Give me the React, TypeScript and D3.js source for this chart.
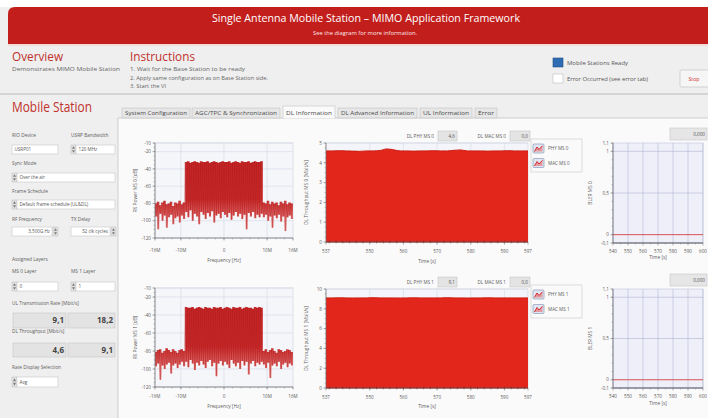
import React from 'react';
import * as d3 from 'd3';

const FONT = "'Open Sans', 'Noto Sans', 'DejaVu Sans', sans-serif";

// ---------- data ----------
const specFreqMHz = [-16,-15.5,-15,-14.5,-14,-13.5,-13,-12.5,-12,-11.5,-11,-10.5,-10,-9.5,-9,-8.5,-8,-7.5,-7,-6.5,-6,-5.5,-5,-4.5,-4,-3.5,-3,-2.5,-2,-1.5,-1,-0.5,0,0.5,1,1.5,2,2.5,3,3.5,4,4.5,5,5.5,6,6.5,7,7.5,8,8.5,9,9.5,10,10.5,11,11.5,12,12.5,13,13.5,14,14.5,15,15.5];
const specUpperMS0 = [-80,-78,-82,-79,-77,-81,-80,-78,-83,-79,-80,-77,-81,-79,
  -32,-31,-33,-32,-31,-32,-33,-31,-32,-32,-31,-33,-32,-31,-32,-33,-32,-31,-32,-32,-31,-33,-32,-31,-32,-33,-31,-32,-32,-31,-33,-32,-31,-32,-32,-31,
  -79,-80,-77,-81,-78,-80,-79,-82,-78,-80,-77,-81,-79,-80];
const specLowerMS0 = [-95,-110,-92,-100,-94,-108,-96,-93,-104,-97,-95,-102,-94,-98,
  -90,-96,-88,-100,-92,-95,-104,-90,-93,-98,-91,-95,-89,-102,-94,-92,-97,-90,-93,-96,-91,-99,-94,-90,-95,-92,-98,-93,-110,-91,-95,-90,-97,-93,-96,-92,
  -96,-93,-100,-95,-108,-94,-97,-93,-101,-95,-112,-96,-94,-98];
const specUpperMS1 = [-81,-79,-78,-82,-80,-77,-79,-81,-78,-80,-82,-79,-78,-80,
  -31,-32,-32,-31,-33,-32,-31,-32,-33,-31,-32,-32,-33,-31,-32,-32,-31,-33,-32,-31,-32,-33,-31,-32,-32,-31,-33,-32,-31,-32,-32,-33,-31,-32,-31,-32,
  -80,-78,-81,-79,-77,-80,-82,-78,-79,-81,-80,-78,-79,-81];
const specLowerMS1 = [-97,-94,-112,-96,-100,-95,-93,-105,-96,-94,-99,-95,-92,-97,
  -92,-98,-90,-94,-101,-93,-96,-91,-95,-99,-92,-90,-97,-93,-108,-94,-91,-96,-92,-95,-99,-90,-94,-97,-93,-100,-91,-96,-92,-106,-94,-91,-97,-93,-95,-92,
  -95,-99,-93,-110,-96,-94,-97,-92,-100,-95,-93,-98,-94,-96];
const specTickValues = [-16, -10, 0, 10, 16];
const specTickLabels = ['-16M', '-10M', '0', '10M', '16M'];
const powerTickValues = [-10, -20, -40, -60, -80, -100, -120];

const tputTime = [537,539,541,543,545,547,549,551,553,555,557,559,561,563,565,567,569,571,573,575,577,579,581,583,585,587,589,591,593,595,597];
const tputPhyMS0 = [4.6,4.6,4.61,4.6,4.59,4.58,4.6,4.6,4.62,4.7,4.66,4.6,4.6,4.59,4.6,4.6,4.61,4.6,4.6,4.63,4.65,4.6,4.6,4.6,4.59,4.6,4.6,4.61,4.6,4.6,4.6];
const tputMacMS0 = [0,0,0,0,0,0,0,0,0,0,0,0,0,0,0,0,0,0,0,0,0,0,0,0,0,0,0,0,0,0,0];
const tputPhyMS1 = [9.1,9.1,9.11,9.1,9.09,9.1,9.1,9.12,9.1,9.1,9.1,9.09,9.1,9.11,9.1,9.1,9.1,9.1,9.12,9.1,9.1,9.09,9.1,9.1,9.11,9.1,9.1,9.1,9.1,9.1,9.1];
const tputMacMS1 = [0,0,0,0,0,0,0,0,0,0,0,0,0,0,0,0,0,0,0,0,0,0,0,0,0,0,0,0,0,0,0];
const tputTickValues = [537, 550, 560, 570, 580, 590, 597];
const tputYTicksMS0 = [0, 1, 2, 3, 4, 5];
const tputYTicksMS1 = [0, 2, 4, 6, 8, 10];

const blerTime = [540, 550, 560, 570, 580, 590, 600];
const blerMS0 = [0, 0, 0, 0, 0, 0, 0];
const blerMS1 = [0, 0, 0, 0, 0, 0, 0];
const blerTickValues = [-0.1, 0, 0.5, 1, 1.1];
const blerTickLabels = ['-0,1', '0', '0,5', '1', '1,1'];

const tabLabels = ['System Configuration', 'AGC/TPC & Synchronization', 'DL Information', 'DL Advanced Information', 'UL Information', 'Error'];
const ulRate = [9.1, 18.2];
const dlThroughput = [4.6, 9.1];

const fmt1 = (v: number) => v.toFixed(1).replace('.', ',');

// ---------- small widgets ----------
function Spinner({ x, y, h }: any) {
  const w = 5;
  return (
    <g>
      <rect x={x} y={y} width={w} height={h} fill="#e2e2e2" stroke="#bdbdbd" strokeWidth={0.5} />
      <path d={`M${x + 1},${y + h / 2 - 0.8} L${x + w / 2},${y + 1.3} L${x + w - 1},${y + h / 2 - 0.8} Z`} fill="#7a7a7a" />
      <path d={`M${x + 1},${y + h / 2 + 0.8} L${x + w / 2},${y + h - 1.3} L${x + w - 1},${y + h / 2 + 0.8} Z`} fill="#7a7a7a" />
    </g>
  );
}

function Box({ x, y, w, h, text, align = 'left', fill = '#ffffff', size = 4.6, bold = false, color = '#555' }: any) {
  const tx = align === 'right' ? x + w - 2 : x + 2.5;
  return (
    <g>
      <rect x={x} y={y} width={w} height={h} fill={fill} stroke="#c6c6c6" strokeWidth={0.6} />
      <text x={tx} y={y + h / 2 + size * 0.36} fontSize={size} fill={color} fontWeight={bold ? 700 : 400}
        textAnchor={align === 'right' ? 'end' : 'start'}>{text}</text>
    </g>
  );
}

function Label({ x, y, children, size = 4.8 }: any) {
  return <text x={x} y={y} fontSize={size} fill="#5c5c5c">{children}</text>;
}

// ---------- charts ----------
function SpectrumChart({ y0, y1, ms, upper, lower, tickY, titleY }: any) {
  const x0 = 155, x1 = 293;
  const xs = d3.scaleLinear().domain([-16, 16]).range([x0, x1]);
  const ys = d3.scaleLinear().domain([-120, -10]).range([y1, y0]);
  const pts = specFreqMHz.map((f, i) => ({ f, hi: upper[i], lo: lower[i] }));
  const last = pts[pts.length - 1];
  const areaPath = d3.area<any>().x((d) => xs(d.f)).y0((d) => ys(d.lo)).y1((d) => ys(d.hi))
    .curve(d3.curveStepAfter)([...pts, { f: 16, hi: last.hi, lo: last.lo }]);
  const zig: [number, number][] = [];
  pts.forEach((p) => { zig.push([xs(p.f), ys(p.hi)]); zig.push([xs(p.f + 0.25), ys(p.lo)]); });
  const zigPath = d3.line()(zig);
  const gid = `specGrad${ms}`;
  const cid = `specClip${ms}`;
  const minorY = d3.range(-120, -9, 5);
  const minorX = d3.range(-16, 16.1, 2);
  return (
    <g>
      <defs>
        <linearGradient id={gid} gradientUnits="userSpaceOnUse" x1={0} y1={ys(-30)} x2={0} y2={ys(-112)}>
          <stop offset="0" stopColor="#bf1717" />
          <stop offset="0.55" stopColor="#c41c1c" />
          <stop offset="1" stopColor="#f0a0a0" />
        </linearGradient>
        <clipPath id={cid}><rect x={x0} y={y0} width={x1 - x0} height={y1 - y0} /></clipPath>
      </defs>
      <rect x={x0} y={y0} width={x1 - x0} height={y1 - y0} fill="#f5f6fa" stroke="#c3c8d6" strokeWidth={0.5} />
      {specTickValues.slice(1, -1).map((v) => (
        <line key={'gx' + v} x1={xs(v)} x2={xs(v)} y1={y0} y2={y1} stroke="#d3d8e5" strokeWidth={0.6} />
      ))}
      {powerTickValues.map((v) => (
        <line key={'gy' + v} x1={x0} x2={x1} y1={ys(v)} y2={ys(v)} stroke="#d3d8e5" strokeWidth={0.6} />
      ))}
      <g clipPath={`url(#${cid})`}>
        <path d={areaPath || ''} fill={`url(#${gid})`} opacity={0.92} />
        <path d={zigPath || ''} fill="none" stroke="#b01212" strokeWidth={0.45} opacity={0.75} />
      </g>
      {/* axes */}
      <line x1={x0} x2={x0} y1={y0} y2={y1} stroke="#6e6e6e" strokeWidth={0.7} />
      <line x1={x0} x2={x1} y1={y1} y2={y1} stroke="#6e6e6e" strokeWidth={0.7} />
      {minorY.map((v) => <line key={'my' + v} x1={x0 - 1.5} x2={x0} y1={ys(v)} y2={ys(v)} stroke="#777" strokeWidth={0.4} />)}
      {minorX.map((v) => <line key={'mx' + v} x1={xs(v)} x2={xs(v)} y1={y1} y2={y1 + 1.5} stroke="#777" strokeWidth={0.4} />)}
      {powerTickValues.map((v) => (
        <g key={'ty' + v}>
          <line x1={x0 - 2.5} x2={x0} y1={ys(v)} y2={ys(v)} stroke="#666" strokeWidth={0.5} />
          <text x={x0 - 4} y={ys(v) + 1.7} fontSize={4.6} fill="#5a5a5a" textAnchor="end">{v}</text>
        </g>
      ))}
      {specTickValues.map((v, i) => (
        <g key={'tx' + v}>
          <line x1={xs(v)} x2={xs(v)} y1={y1} y2={y1 + 2.5} stroke="#666" strokeWidth={0.5} />
          <text x={xs(v)} y={tickY} fontSize={4.6} fill="#5a5a5a" textAnchor="middle">{specTickLabels[i]}</text>
        </g>
      ))}
      <text x={(x0 + x1) / 2} y={titleY} fontSize={4.8} fill="#5a5a5a" textAnchor="middle">Frequency [Hz]</text>
      <text transform={`translate(137,${(y0 + y1) / 2}) rotate(-90)`} fontSize={4.8} fill="#5a5a5a" textAnchor="middle">{`RX Power MS ${ms} [dB]`}</text>
    </g>
  );
}

function LegendIcon({ x, y }: any) {
  return (
    <g>
      <rect x={x} y={y} width={11} height={9} rx={1} fill="#dfe6f1" stroke="#7a8db0" strokeWidth={0.6} />
      <path d={`M${x + 1.5},${y + 7.5} L${x + 4},${y + 3} L${x + 6},${y + 5.5} L${x + 9.5},${y + 1.8}`} fill="none" stroke="#d42020" strokeWidth={1} />
      <path d={`M${x + 1.5},${y + 7.5} L${x + 4},${y + 3} L${x + 6},${y + 5.5} L${x + 9.5},${y + 1.8} L${x + 9.5},${y + 7.5} Z`} fill="#e45050" opacity={0.5} />
    </g>
  );
}

function TputChart({ y0, y1, ms, ymax, yticks, phy, mac, tickY, titleY }: any) {
  const x0 = 326, x1 = 528;
  const xs = d3.scaleLinear().domain([537, 597]).range([x0, x1]);
  const ys = d3.scaleLinear().domain([0, ymax]).range([y1, y0]);
  const data = tputTime.map((t, i) => ({ t, p: phy[i], m: mac[i] }));
  const areaPath = d3.area<any>().x((d) => xs(d.t)).y0(ys(0)).y1((d) => ys(d.p)).curve(d3.curveMonotoneX)(data);
  const topLine = d3.line<any>().x((d) => xs(d.t)).y((d) => ys(d.p)).curve(d3.curveMonotoneX)(data);
  const macLine = d3.line<any>().x((d) => xs(d.t)).y((d) => ys(d.m))(data);
  const minorX = d3.range(538, 597, 2);
  const step = yticks[1] - yticks[0];
  const minorY = d3.range(0, ymax + 0.001, step / 4);
  const phyNow = phy[phy.length - 1];
  const macNow = mac[mac.length - 1];
  return (
    <g>
      <rect x={x0} y={y0} width={x1 - x0} height={y1 - y0} fill="#f4f5fa" stroke="#c3c8d6" strokeWidth={0.5} />
      {yticks.map((v: number) => (
        <line key={'gy' + v} x1={x0} x2={x1} y1={ys(v)} y2={ys(v)} stroke="#d3d8e5" strokeWidth={0.6} />
      ))}
      {tputTickValues.slice(1, -1).map((v) => (
        <line key={'gx' + v} x1={xs(v)} x2={xs(v)} y1={y0} y2={y1} stroke="#d3d8e5" strokeWidth={0.6} />
      ))}
      <path d={areaPath || ''} fill="#e3261b" />
      <path d={topLine || ''} fill="none" stroke="#cc1d12" strokeWidth={1} />
      <path d={macLine || ''} fill="none" stroke="#9a1208" strokeWidth={1.2} />
      <line x1={x0} x2={x0} y1={y0} y2={y1} stroke="#6e6e6e" strokeWidth={0.7} />
      <line x1={x0} x2={x1} y1={y1} y2={y1} stroke="#6e6e6e" strokeWidth={0.7} />
      {minorX.map((v) => <line key={'mx' + v} x1={xs(v)} x2={xs(v)} y1={y1 - 1.5} y2={y1 + 1.5} stroke="#7a1a10" strokeWidth={0.4} />)}
      {minorY.map((v) => <line key={'my' + v} x1={x0 - 1.5} x2={x0} y1={ys(v)} y2={ys(v)} stroke="#777" strokeWidth={0.4} />)}
      {yticks.map((v: number) => (
        <g key={'ty' + v}>
          <line x1={x0 - 2.5} x2={x0} y1={ys(v)} y2={ys(v)} stroke="#666" strokeWidth={0.5} />
          <text x={x0 - 4} y={ys(v) + 1.7} fontSize={4.6} fill="#5a5a5a" textAnchor="end">{v}</text>
        </g>
      ))}
      {tputTickValues.map((v) => (
        <g key={'tx' + v}>
          <line x1={xs(v)} x2={xs(v)} y1={y1} y2={y1 + 2.5} stroke="#666" strokeWidth={0.5} />
          <text x={xs(v)} y={tickY} fontSize={4.6} fill="#5a5a5a" textAnchor="middle">{v}</text>
        </g>
      ))}
      <text x={(x0 + x1) / 2} y={titleY} fontSize={4.8} fill="#5a5a5a" textAnchor="middle">Time [s]</text>
      <text transform={`translate(308,${(y0 + y1) / 2}) rotate(-90)`} fontSize={4.8} fill="#5a5a5a" textAnchor="middle">{`DL Throughput MS ${ms} [Mbit/s]`}</text>
      {/* indicators above */}
      <text x={434} y={y0 - 5} fontSize={4.6} fill="#5a5a5a" textAnchor="end">{`DL PHY MS ${ms}`}</text>
      <Box x={438} y={y0 - 12} w={19} h={10} text={fmt1(phyNow)} align="right" fill="#e4e4e4" />
      <text x={506} y={y0 - 5} fontSize={4.6} fill="#5a5a5a" textAnchor="end">{`DL MAC MS ${ms}`}</text>
      <Box x={510} y={y0 - 12} w={20} h={10} text={fmt1(macNow)} align="right" fill="#e4e4e4" />
      {/* legend */}
      <rect x={531} y={y0 - 4} width={51} height={33} fill="#fafafa" stroke="#c9c9c9" strokeWidth={0.6} />
      <LegendIcon x={533} y={y0 + 1} />
      <text x={548} y={y0 + 7.3} fontSize={4.6} fill="#5a5a5a">{`PHY MS ${ms}`}</text>
      <LegendIcon x={533} y={y0 + 15.5} />
      <text x={548} y={y0 + 21.8} fontSize={4.6} fill="#5a5a5a">{`MAC MS ${ms}`}</text>
    </g>
  );
}

function BlerChart({ y0, y1, ms, values, tickY, titleY }: any) {
  const x0 = 613, x1 = 703;
  const xs = d3.scaleLinear().domain([540, 600]).range([x0, x1]);
  const ys = d3.scaleLinear().domain([-0.1, 1.1]).range([y1, y0]);
  const line = d3.line<any>().x((d) => xs(d.t)).y((d) => ys(d.v))(blerTime.map((t, i) => ({ t, v: values[i] })));
  const minorY = d3.range(-0.1, 1.101, 0.1);
  const minorX = d3.range(545, 600, 10);
  return (
    <g>
      <rect x={x0} y={y0} width={x1 - x0} height={y1 - y0} fill="#efeff9" stroke="#b9bdd6" strokeWidth={0.5} />
      {blerTime.map((v) => (
        <line key={'gx' + v} x1={xs(v)} x2={xs(v)} y1={y0} y2={y1} stroke="#b4b8d4" strokeWidth={0.6} />
      ))}
      {[1, 0.5].map((v) => (
        <line key={'gy' + v} x1={x0} x2={x1} y1={ys(v)} y2={ys(v)} stroke="#aeb2d0" strokeWidth={0.6} />
      ))}
      <path d={line || ''} fill="none" stroke="#d42a2a" strokeWidth={0.8} />
      <line x1={x0} x2={x0} y1={y0} y2={y1} stroke="#6e6e6e" strokeWidth={0.7} />
      <line x1={x0} x2={x1} y1={y1} y2={y1} stroke="#4e4e5e" strokeWidth={1.2} />
      {minorY.map((v) => <line key={'my' + v} x1={x0 - 1.5} x2={x0} y1={ys(v)} y2={ys(v)} stroke="#777" strokeWidth={0.4} />)}
      {minorX.map((v) => <line key={'mx' + v} x1={xs(v)} x2={xs(v)} y1={y1} y2={y1 + 1.5} stroke="#777" strokeWidth={0.4} />)}
      {blerTickValues.map((v, i) => (
        <g key={'ty' + v}>
          <line x1={x0 - 2.5} x2={x0} y1={ys(v)} y2={ys(v)} stroke="#666" strokeWidth={0.5} />
          <text x={x0 - 4} y={ys(v) + 1.7} fontSize={4.6} fill="#5a5a5a" textAnchor="end">{blerTickLabels[i]}</text>
        </g>
      ))}
      {blerTime.map((v) => (
        <g key={'tx' + v}>
          <line x1={xs(v)} x2={xs(v)} y1={y1} y2={y1 + 2.5} stroke="#666" strokeWidth={0.5} />
          <text x={xs(v)} y={tickY} fontSize={4.6} fill="#5a5a5a" textAnchor="middle">{v}</text>
        </g>
      ))}
      <text x={(x0 + x1) / 2} y={titleY} fontSize={4.8} fill="#5a5a5a" textAnchor="middle">Time [s]</text>
      <text transform={`translate(592,${(y0 + y1) / 2}) rotate(-90)`} fontSize={4.8} fill="#5a5a5a" textAnchor="middle">{`BLER MS ${ms}`}</text>
      <Box x={670} y={y0 - 15} w={37} h={12} text={values[values.length - 1].toFixed(3).replace('.', ',')} align="right" fill="#e6e6e6" />
    </g>
  );
}

// ---------- main ----------
export default function App() {
  const tabs = [
    { x0: 122, x1: 190 }, { x0: 192, x1: 280 }, { x0: 283, x1: 335 },
    { x0: 338, x1: 417 }, { x0: 420, x1: 472 }, { x0: 475, x1: 497 },
  ];
  return (
    <svg width={708} height={418} viewBox="0 0 708 418" fontFamily={FONT}
      style={{ position: 'absolute', left: 0, top: 0, display: 'block' }}>
      <rect x={0} y={0} width={708} height={418} fill="#efefef" />
      <rect x={0} y={0} width={708} height={7} fill="#ffffff" />
      {/* header */}
      <path d="M8,14 Q8,7 15,7 L708,7 L708,44 L8,44 Z" fill="#c21e1c" />
      <line x1={8} x2={708} y1={45} y2={45} stroke="#f4d4d2" strokeWidth={1.5} />
      <text x={366} y={22} textAnchor="middle" fill="#ffffff" fontSize={11} textLength={308} lengthAdjust="spacingAndGlyphs">Single Antenna Mobile Station – MIMO Application Framework</text>
      <text x={365} y={35} textAnchor="middle" fill="#fde7e5" fontSize={4.6} textLength={104} lengthAdjust="spacingAndGlyphs">See the diagram for more information.</text>

      {/* overview / instructions */}
      <text x={12} y={61} fontSize={13} fill="#c0302c" textLength={51} lengthAdjust="spacingAndGlyphs">Overview</text>
      <text x={12} y={71} fontSize={4.8} fill="#666" textLength={108} lengthAdjust="spacingAndGlyphs">Demonstrates MIMO Mobile Station</text>
      <text x={130} y={61} fontSize={13} fill="#c0302c" textLength={65} lengthAdjust="spacingAndGlyphs">Instructions</text>
      <text x={130} y={71} fontSize={4.8} fill="#666" textLength={115} lengthAdjust="spacingAndGlyphs">1. Wait for the Base Station to be ready</text>
      <text x={130} y={79.5} fontSize={4.8} fill="#666" textLength={138} lengthAdjust="spacingAndGlyphs">2. Apply same configuration as on Base Station side.</text>
      <text x={130} y={88} fontSize={4.8} fill="#666" textLength={36} lengthAdjust="spacingAndGlyphs">3. Start the VI</text>

      {/* status */}
      <rect x={553} y={58} width={10} height={9} fill="#2e6cb3" stroke="#1f4f88" strokeWidth={0.6} />
      <text x={567} y={64.5} fontSize={4.8} fill="#555" textLength={61} lengthAdjust="spacingAndGlyphs">Mobile Stations Ready</text>
      <rect x={553} y={74} width={10} height={9} fill="#ffffff" stroke="#bdbdbd" strokeWidth={0.6} />
      <text x={567} y={80.5} fontSize={4.8} fill="#555" textLength={81} lengthAdjust="spacingAndGlyphs">Error Occurred (see error tab)</text>
      <rect x={680} y={70} width={30} height={17} rx={1.5} fill="#f6f6f6" stroke="#c4c4c4" strokeWidth={0.7} />
      <text x={694} y={80.5} fontSize={5.2} fill="#d03030" textAnchor="middle">Stop</text>

      <line x1={0} x2={708} y1={94} y2={94} stroke="#cdcdcd" strokeWidth={1.5} />

      {/* mobile station panel */}
      <text x={12} y={112} fontSize={14} fill="#c0302c" textLength={80} lengthAdjust="spacingAndGlyphs">Mobile Station</text>
      <Label x={12} y={137}>RIO Device</Label>
      <Label x={71} y={137}>USRP Bandwidth</Label>
      <Box x={12} y={145} w={46} h={9} text="USRP01" />
      <Spinner x={71} y={145} h={9} />
      <Box x={76} y={145} w={39} h={9} text="120 MHz" />
      <Label x={12} y={165}>Sync Mode</Label>
      <Spinner x={12} y={173} h={9} />
      <Box x={17} y={173} w={98} h={9} text="Over the air" />
      <Label x={12} y={193}>Frame Schedule</Label>
      <Spinner x={12} y={200} h={9} />
      <Box x={17} y={200} w={98} h={9} text="Default frame schedule (UL&DL)" />
      <Label x={12} y={221}>RF Frequency</Label>
      <Label x={71} y={221}>TX Delay</Label>
      <Box x={12} y={227} w={40} h={9} text="3,500G Hz" align="right" />
      <Spinner x={53} y={227} h={9} />
      <Box x={71} y={227} w={39} h={9} text="32 clk cycles" align="right" />
      <Spinner x={111} y={227} h={9} />
      <Label x={12} y={261}>Assigned Layers</Label>
      <Label x={12} y={273}>MS 0 Layer</Label>
      <Label x={71} y={273}>MS 1 Layer</Label>
      <Spinner x={12} y={282} h={9} />
      <Box x={17} y={282} w={41} h={9} text="0" />
      <Spinner x={71} y={282} h={9} />
      <Box x={76} y={282} w={39} h={9} text="1" />
      <Label x={12} y={305}>UL Transmission Rate [Mbit/s]</Label>
      <Box x={13} y={313} w={53} h={15} text={fmt1(ulRate[0])} align="right" fill="#e3e3e3" size={8} bold color="#444" />
      <Box x={68} y={313} w={47} h={15} text={fmt1(ulRate[1])} align="right" fill="#e3e3e3" size={8} bold color="#444" />
      <Label x={12} y={333}>DL Throughput [Mbit/s]</Label>
      <Box x={13} y={343} w={53} h={14} text={fmt1(dlThroughput[0])} align="right" fill="#e3e3e3" size={8} bold color="#444" />
      <Box x={68} y={343} w={47} h={14} text={fmt1(dlThroughput[1])} align="right" fill="#e3e3e3" size={8} bold color="#444" />
      <Label x={12} y={369}>Rate Display Selection</Label>
      <Spinner x={12} y={377} h={10} />
      <Box x={17} y={377} w={41} h={10} text="Avg" />

      {/* tab control */}
      <rect x={118} y={118} width={592} height={302} fill="#fafafa" stroke="#c6c6c6" strokeWidth={0.8} />
      {tabs.map((t, i) => {
        const active = i === 2;
        return (
          <g key={i}>
            <rect x={t.x0} y={active ? 106 : 108} width={t.x1 - t.x0} height={active ? 12.5 : 10}
              fill={active ? '#fafafa' : '#e6e6e6'} stroke="#c2c2c2" strokeWidth={0.6} />
            {active && <line x1={t.x0 + 0.4} x2={t.x1 - 0.4} y1={118} y2={118} stroke="#fafafa" strokeWidth={1.2} />}
            <text x={(t.x0 + t.x1) / 2} y={114.5} fontSize={4.5} fill="#4a4a4a" textAnchor="middle"
              textLength={t.x1 - t.x0 - 6} lengthAdjust="spacingAndGlyphs">{tabLabels[i]}</text>
          </g>
        );
      })}

      {/* row MS 0 */}
      <SpectrumChart y0={143} y1={238} ms={0} upper={specUpperMS0} lower={specLowerMS0} tickY={252} titleY={262} />
      <TputChart y0={143} y1={242} ms={0} ymax={5} yticks={tputYTicksMS0} phy={tputPhyMS0} mac={tputMacMS0} tickY={253} titleY={263} />
      <BlerChart y0={143} y1={243} ms={0} values={blerMS0} tickY={253} titleY={259} />

      {/* row MS 1 */}
      <SpectrumChart y0={288} y1={387} ms={1} upper={specUpperMS1} lower={specLowerMS1} tickY={398} titleY={408} />
      <TputChart y0={289} y1={388} ms={1} ymax={10} yticks={tputYTicksMS1} phy={tputPhyMS1} mac={tputMacMS1} tickY={399} titleY={408} />
      <BlerChart y0={289} y1={388} ms={1} values={blerMS1} tickY={398} titleY={405} />
    </svg>
  );
}
